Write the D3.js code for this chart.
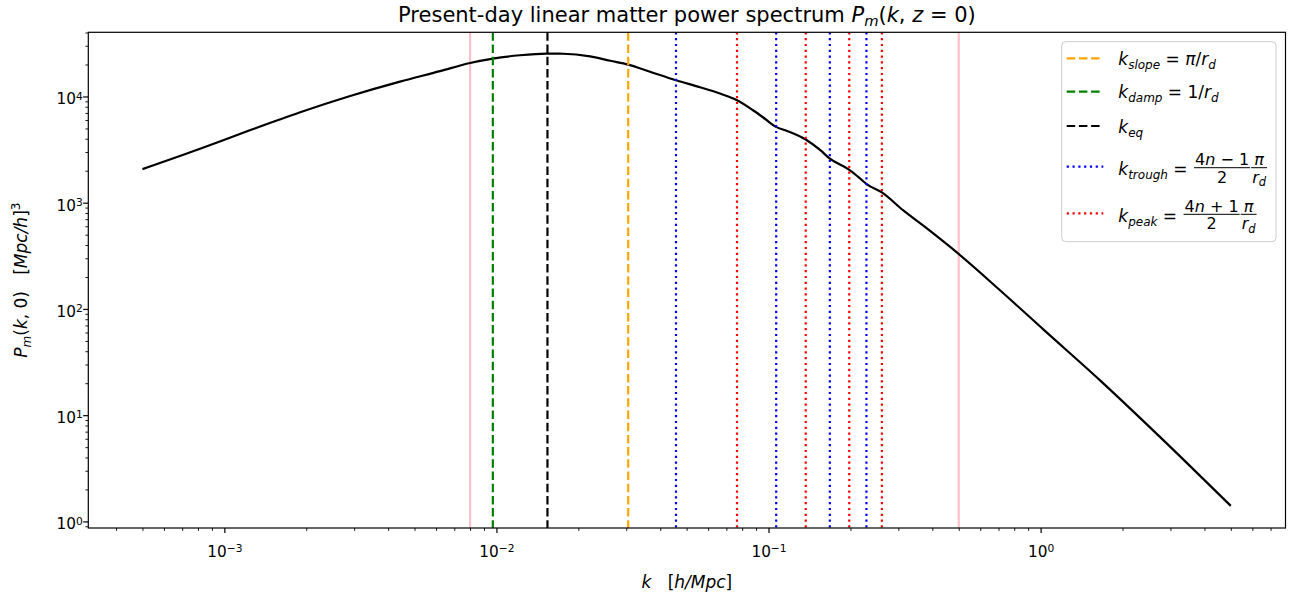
<!DOCTYPE html>
<html>
<head>
<meta charset="utf-8">
<script src="https://cdn.jsdelivr.net/npm/d3@7"></script>
<style>
  body { margin: 0; background: #fff; }
  text { font-family: "DejaVu Sans", sans-serif; fill: #000; }
</style>
</head>
<body>
<svg id="chart"></svg>
<script>
// values
const kVals = [5.0e-4, 8.1e-4, 1.24e-3, 1.90e-3, 2.90e-3, 4.42e-3, 6.20e-3, 8.0e-3, 9.7e-3,
  0.0122, 0.0153, 0.0176, 0.0221, 0.0262, 0.0305, 0.0367, 0.0457, 0.056, 0.0663, 0.0766,
  0.0877, 0.097, 0.1065, 0.117, 0.137, 0.155, 0.168, 0.1975, 0.213, 0.230, 0.261, 0.312,
  0.382, 0.497, 0.709, 1.03, 1.65, 2.75, 5.0];
const pVals = [2070, 3200, 4800, 7100, 10100, 13800, 17300, 20650, 22730,
  24420, 25300, 25250, 23880, 21670, 19960, 17080, 14210, 12210, 10650, 9210,
  7420, 6170, 5170, 4740, 3930, 3120, 2600, 2050, 1760, 1490, 1250, 850,
  572, 333, 150, 63.2, 21.4, 6.22, 1.40];

const kPink = [0.008, 0.5];
const kSlope = 0.0305;
const kDamp = 0.0097;
const kEq = 0.0154;
const kTrough = [0.0457, 0.1067, 0.168, 0.229];
const kPeak = [0.0766, 0.137, 0.198, 0.261];

const xMajor = [1e-3, 1e-2, 1e-1, 1];
const yMajor = [1, 10, 100, 1000, 10000];

const W = 1294, H = 598;
const margin = { top: 32.3, right: 8.5, bottom: 70, left: 88.3 };
const width = W - margin.left - margin.right;
const height = H - margin.top - margin.bottom;

const svg = d3.select("#chart").attr("width", W).attr("height", H);
const g = svg.append("g").attr("transform", `translate(${margin.left},${margin.top})`);

const x = d3.scaleLog().domain([Math.pow(10, -3.5), Math.pow(10, 0.9)]).range([0, width]);
const y = d3.scaleLog().domain([Math.pow(10, -0.062), Math.pow(10, 4.604)]).range([height, 0]);

const dashed = "8.5,3.7", dotted = "2.2,3.6";

svg.append("defs").append("clipPath").attr("id", "clip")
  .append("rect").attr("width", width).attr("height", height);
const plot = g.append("g").attr("clip-path", "url(#clip)");

function vline(k, color, dash) {
  plot.append("line")
    .attr("x1", x(k)).attr("x2", x(k))
    .attr("y1", 0).attr("y2", height)
    .attr("stroke", color).attr("stroke-width", 2.2)
    .attr("stroke-dasharray", dash);
}

kPink.forEach(k => vline(k, "pink", null));

// power spectrum curve
const pts = kVals.map((k, i) => [k, pVals[i]]);
plot.append("path")
  .datum(pts)
  .attr("fill", "none")
  .attr("stroke", "#000")
  .attr("stroke-width", 2.2)
  .attr("stroke-linejoin", "round")
  .attr("d", d3.line().x(d => x(d[0])).y(d => y(d[1])).curve(d3.curveMonotoneX));

vline(kSlope, "orange", dashed);
vline(kDamp, "green", dashed);
vline(kEq, "black", dashed);
kTrough.forEach(k => vline(k, "blue", dotted));
kPeak.forEach(k => vline(k, "red", dotted));

// axes
function pow10Label(sel) {
  sel.each(function(d) {
    const t = d3.select(this).text("10");
    const e = Math.round(Math.log10(d));
    t.append("tspan").attr("dy", "-0.45em").attr("font-size", "0.7em")
      .text(e < 0 ? "\u2212" + (-e) : e);
  });
}

const isMinor = v => Math.abs(Math.log10(v) - Math.round(Math.log10(v))) > 1e-6;
const xMinor = x.ticks().filter(isMinor);
const yMinor = y.ticks().filter(isMinor);

const xAxis = g.append("g").attr("transform", `translate(0,${height})`)
  .call(d3.axisBottom(x).tickValues(xMajor).tickSize(5.1).tickSizeOuter(0).tickFormat(() => ""));
xAxis.selectAll(".tick text").attr("y", 29).attr("dy", 0).attr("font-size", 15.3)
  .attr("font-family", "DejaVu Sans").call(pow10Label);
g.append("g").attr("transform", `translate(0,${height})`)
  .call(d3.axisBottom(x).tickValues(xMinor).tickSize(2.9).tickSizeOuter(0).tickFormat(() => ""))
  .call(a => a.selectAll("line").attr("stroke-width", 0.9));

const yAxis = g.append("g")
  .call(d3.axisLeft(y).tickValues(yMajor).tickSize(5.1).tickSizeOuter(0).tickFormat(() => ""));
yAxis.selectAll(".tick text").attr("x", -5.6).attr("dy", 0).attr("y", 7.5).attr("font-size", 15.3)
  .attr("font-family", "DejaVu Sans").call(pow10Label);
g.append("g")
  .call(d3.axisLeft(y).tickValues(yMinor).tickSize(2.9).tickSizeOuter(0).tickFormat(() => ""))
  .call(a => a.selectAll("line").attr("stroke-width", 0.9));

g.selectAll(".domain").remove();
g.selectAll(".tick line").filter(function() { return !this.getAttribute("stroke-width"); })
  .attr("stroke-width", 1.2);

g.append("rect").attr("width", width).attr("height", height)
  .attr("fill", "none").attr("stroke", "#000").attr("stroke-width", 1.2);

// helper: append styled math parts [text, italic, shift, size]
function parts(t, list) {
  let cur = 0;
  list.forEach(([s, it, shift, size]) => {
    const sh = shift || 0;
    const ts = t.append("tspan").text(s).attr("dy", sh - cur);
    if (it) ts.attr("font-style", "italic");
    if (size) ts.attr("font-size", size);
    cur = sh;
  });
  return t;
}

// title
parts(svg.append("text").attr("x", margin.left + width / 2).attr("y", 21.5)
  .attr("text-anchor", "middle").attr("font-size", 21), [
  ["Present-day linear matter power spectrum ", false],
  ["P", true], ["m", true, 4, 14.7], ["(", false, 0], ["k", true], [", ", false],
  ["z", true], [" = 0)", false]
]);

// x label
parts(svg.append("text").attr("x", margin.left + width / 2).attr("y", 588)
  .attr("text-anchor", "middle").attr("font-size", 17).attr("xml:space", "preserve"), [
  ["k", true], ["   [", false], ["h/Mpc", true], ["]", false]
]);

// y label
parts(svg.append("text").attr("transform", `translate(27,${margin.top + height / 2}) rotate(-90)`)
  .attr("text-anchor", "middle").attr("font-size", 17).attr("xml:space", "preserve"), [
  ["P", true], ["m", true, 4, 12], ["(", false, 0], ["k", true], [", 0)   [", false],
  ["Mpc/h", true], ["]", false], ["3", false, -7, 12]
]);

// legend
const lg = svg.append("g");
lg.append("rect").attr("x", 1061.7).attr("y", 41.7).attr("width", 214.3).attr("height", 200)
  .attr("rx", 4).attr("fill", "#fff").attr("fill-opacity", 0.8)
  .attr("stroke", "#cccccc").attr("stroke-width", 1);

const legendRows = [
  { color: "orange", dash: dashed, sub: "slope", rhs: "pi", y: 58.3 },
  { color: "green", dash: dashed, sub: "damp", rhs: "one", y: 91.7 },
  { color: "black", dash: dashed, sub: "eq", rhs: null, y: 126 },
  { color: "blue", dash: dotted, sub: "trough", rhs: "\u2212", y: 166.7 },
  { color: "red", dash: dotted, sub: "peak", rhs: "+", y: 213.3 }
];

const fs = 17, sub = 12;

function frac(x0, barY, num, den) {
  const nt = parts(lg.append("text").attr("y", barY - 2.6).attr("font-size", 16)
    .attr("text-anchor", "middle").attr("xml:space", "preserve"), num);
  const dt = parts(lg.append("text").attr("y", barY + 15).attr("font-size", 16)
    .attr("text-anchor", "middle"), den);
  const w = Math.max(nt.node().getComputedTextLength(), dt.node().getComputedTextLength()) + 2;
  nt.attr("x", x0 + w / 2);
  dt.attr("x", x0 + w / 2);
  lg.append("line").attr("x1", x0).attr("x2", x0 + w).attr("y1", barY).attr("y2", barY)
    .attr("stroke", "#000").attr("stroke-width", 1);
  return x0 + w;
}

legendRows.forEach(r => {
  lg.append("line").attr("x1", 1066.7).attr("x2", 1103.3).attr("y1", r.y).attr("y2", r.y)
    .attr("stroke", r.color).attr("stroke-width", 2.2).attr("stroke-dasharray", r.dash);
  const isFrac = r.rhs === "+" || r.rhs === "\u2212";
  const base = r.y + (isFrac ? 8.5 : 6.5);
  const t = lg.append("text").attr("x", 1118.3).attr("y", base).attr("font-size", fs)
    .attr("xml:space", "preserve");
  const list = [["k", true], [r.sub, true, 4, sub]];
  if (r.rhs === "pi") list.push([" = ", false, 0], ["\u03c0", true], ["/", false], ["r", true], ["d", true, 4, sub]);
  if (r.rhs === "one") list.push([" = 1/", false, 0], ["r", true], ["d", true, 4, sub]);
  if (isFrac) list.push([" = ", false, 0]);
  parts(t, list);
  if (isFrac) {
    const x0 = 1118.3 + t.node().getComputedTextLength() + 1;
    const barY = base - 7.5;
    const x1 = frac(x0, barY, [["4", false], ["n", true], [" " + r.rhs + " 1", false]], [["2", false]]);
    frac(x1 + 1, barY, [["\u03c0", true]], [["r", true], ["d", true, 3.5, 11.5]]);
  }
});
</script>
</body>
</html>
